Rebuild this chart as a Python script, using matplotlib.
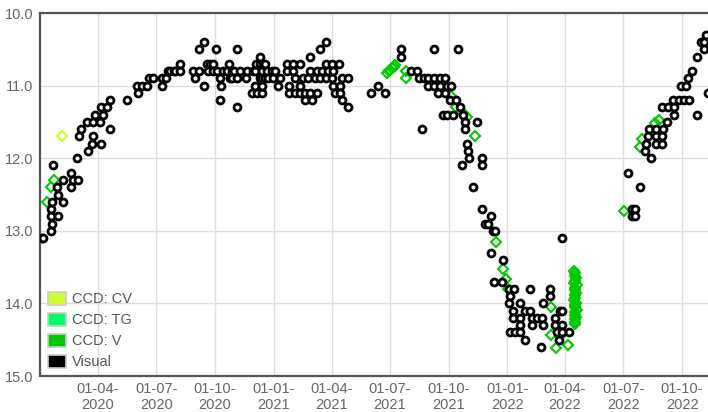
import numpy as np
import pandas as pd
import matplotlib
matplotlib.use('Agg')
from matplotlib import pyplot as plt
import matplotlib.dates as mdates
from matplotlib.patches import Patch

plt.rcParams['font.family'] = ['Liberation Sans', 'DejaVu Sans']

# days since 2020-01-01 and magnitudes
start = pd.Timestamp('2020-01-01')

vis_day = [3, 5, 17, 17, 17, 19, 19, 28, 28, 36, 36, 27, 48, 49, 52, 59, 20, 58, 76, 82, 95, 83, 61, 65, 109,
           74, 83, 94, 86, 98, 96, 105, 110, 136,
           152, 153, 159, 167, 171, 177, 191, 191, 198, 201, 204, 209, 211, 219, 219, 239, 243, 249, 249, 257,
           257, 261, 263, 266, 271, 271, 275, 277, 282, 282, 283, 287, 292, 296, 297, 300, 300, 303, 308, 309,
           308, 313, 323, 324, 331, 334, 336, 337, 338, 339, 344, 344, 344, 347, 347, 347, 347, 349, 352, 352,
           355, 357,
           363, 365, 368, 373, 376, 386, 386, 389, 390, 396, 396, 399, 399, 407, 407, 407, 412, 415, 415, 420,
           422, 422, 422, 425, 430, 433, 433, 438, 438, 441, 448, 448, 448, 451, 456, 456, 459, 459, 462, 467,
           469, 469, 472, 472, 481, 481,
           518, 529, 540, 564, 564, 616, 653, 581, 590, 592, 601, 607, 616, 626, 634, 607, 616, 626, 637, 643,
           622, 634, 641, 651, 657, 630, 637, 646, 662, 665, 683, 665, 598, 667, 670, 671, 660, 691, 692, 677,
           692, 706, 696, 701, 708, 712, 706, 724, 710, 722, 734, 741, 766, 797, 735, 734, 797, 751, 787, 740,
           758, 767, 740, 751, 769, 777, 785, 805, 813, 817, 750, 769, 787, 805, 817, 735, 743, 751, 808, 816,
           828, 758, 784, 811, 817,
           920, 938, 926, 930, 926, 930, 955, 946, 948, 963, 972, 950, 963, 972, 953, 963, 974, 981, 991, 972,
           982, 991, 1028, 990, 999, 1007, 1015, 1003, 1010, 1014, 1020, 1028, 1034, 1038, 1038, 1041, 1044]
vis_mag = [13.1, 13.1, 13.0, 12.8, 12.7, 12.9, 12.6, 12.8, 12.5, 12.6, 12.3, 12.4, 12.4, 12.2, 12.3, 12.3, 12.1,
           12.0, 11.9, 11.8, 11.8, 11.7, 11.7, 11.6, 11.6,
           11.5, 11.5, 11.5, 11.4, 11.4, 11.3, 11.3, 11.2, 11.2,
           11.0, 11.1, 11.0, 11.0, 10.9, 10.9, 10.9, 11.0, 10.9, 10.8, 10.8, 10.8, 10.8, 10.8, 10.7, 10.8, 10.9,
           10.8, 10.5, 10.4,
           11.0, 10.7, 10.8, 10.7, 10.7, 10.8, 10.5, 10.8, 10.9, 11.2, 11.0, 10.8, 10.8, 10.7, 10.9, 10.8, 10.9,
           10.8, 10.5, 10.9,
           11.3, 10.8, 10.9, 10.8, 11.1, 10.8, 11.0, 10.8, 10.7, 11.1, 10.7, 10.6, 10.9, 11.1, 11.0, 10.9, 10.8,
           10.7, 10.7, 10.9,
           10.8, 10.9,
           10.8, 10.9, 10.8, 11.0, 10.9, 10.7, 10.8, 11.1, 11.0, 10.7, 10.8, 11.1, 10.9, 10.7, 11.1, 11.0, 10.9,
           11.1, 11.2, 10.9,
           10.8, 10.6, 11.1, 11.2, 10.9, 10.8, 11.1, 10.9, 10.5, 10.8, 10.4, 10.7, 10.9, 10.8, 10.7, 10.9, 10.8,
           11.0, 11.1, 10.7,
           11.0, 11.1, 10.9, 11.2, 10.9, 11.3,
           11.1, 11.0, 11.1, 10.5, 10.6, 10.5, 10.5, 10.8, 10.8, 10.9, 10.9, 10.9, 10.9, 10.9, 10.9, 11.0, 11.0,
           11.0, 11.0, 11.0,
           11.1, 11.1, 11.2, 11.2, 11.3, 11.4, 11.4, 11.4, 11.4, 11.5, 11.5, 11.6, 11.6, 11.8, 11.9, 12.0, 12.1,
           12.0, 12.1, 12.4,
           12.7, 12.8, 12.9, 12.9, 13.0, 13.0, 13.3, 13.4, 13.7, 13.7, 13.8, 13.8, 13.8, 13.8, 13.9, 14.0, 13.9,
           14.0, 14.0, 14.1,
           14.1, 14.1, 14.2, 14.2, 14.2, 14.2, 14.2, 14.2, 14.1, 14.1, 14.3, 14.3, 14.3, 14.3, 14.3, 14.4, 14.4,
           14.4, 14.4, 14.4,
           14.4, 14.5, 14.6, 14.5, 13.1,
           12.2, 12.4, 12.7, 12.7, 12.8, 12.8, 12.0, 11.9, 11.8, 11.8, 11.8, 11.7, 11.7, 11.7, 11.6, 11.6, 11.6,
           11.5, 11.4, 11.3,
           11.3, 11.3, 11.4, 11.2, 11.2, 11.2, 11.2, 11.0, 11.0, 10.9, 10.8, 10.6, 10.4, 10.4, 10.5, 10.3, 11.1]

v_day = [12, 18, 22, 542, 546, 548, 550, 553, 555, 572, 572, 642, 651, 661, 667, 680, 713, 724, 729, 732,
         799, 799, 807, 813, 825,
         835, 837, 836, 838, 837, 835, 839, 836, 837, 838, 836, 837, 835, 838, 837, 836, 839, 837, 836, 838,
         837, 836, 837,
         913, 938, 942, 962, 968]
v_mag = [12.6, 12.4, 12.3, 10.83, 10.80, 10.78, 10.76, 10.74, 10.72, 10.80, 10.89, 11.15, 11.29, 11.38, 11.43,
         11.69, 13.15, 13.53, 13.67, 13.80,
         14.05, 14.43, 14.62, 14.45, 14.57,
         13.55, 13.58, 13.62, 13.65, 13.69, 13.72, 13.75, 13.79, 13.82, 13.85, 13.89, 13.92, 13.95, 13.99, 14.02,
         14.05, 14.09, 14.12, 14.16, 14.19, 14.22, 14.25, 14.28,
         12.73, 11.84, 11.74, 11.51, 11.48]

cv_day = [35]
cv_mag = [11.7]

series_names = ['CCD: CV', 'CCD: TG', 'CCD: V', 'Visual']
series_colors = ['#ccff33', '#00ff66', '#00c800', '#000000']


def to_dates(days):
    return start + pd.to_timedelta(np.array(days, dtype=float), unit='D')


fig = plt.figure(figsize=(7.08, 4.12), dpi=100)
ax = fig.add_axes([40 / 708, 36 / 412, 668 / 708, 363 / 412])

ax.plot(to_dates(cv_day), cv_mag, 'D', ms=5.3, mfc='none', mec=series_colors[0], mew=1.5, zorder=3)
ax.plot(to_dates(v_day), v_mag, 'D', ms=5.3, mfc='none', mec=series_colors[2], mew=1.5, zorder=3)
ax.plot(to_dates(vis_day), vis_mag, 'o', ms=5.0, mfc='white', mec='black', mew=2.0, zorder=4)

ax.set_xlim(start + pd.Timedelta(days=0.3), start + pd.Timedelta(days=1044.5))
ax.set_ylim(15, 10)
ax.set_yticks([10, 11, 12, 13, 14, 15])
ax.yaxis.set_major_formatter(matplotlib.ticker.FormatStrFormatter('%.1f'))
ax.xaxis.set_major_locator(mdates.MonthLocator(bymonth=[1, 4, 7, 10]))
ax.xaxis.set_major_formatter(mdates.DateFormatter('%d-%m-\n%Y'))

ax.grid(True, color='#dddddd', lw=1.0)
ax.set_axisbelow(True)
ax.tick_params(length=0, labelsize=10.5, colors='#666666', pad=5)
ax.tick_params(axis='x', pad=4)
for s in ['left', 'top', 'bottom']:
    ax.spines[s].set_color('#555555')
    ax.spines[s].set_linewidth(1.6)
ax.spines['right'].set_visible(False)

handles = [Patch(facecolor=c, edgecolor='#cccccc', lw=1.2) for c in series_colors]
ax.legend(handles, series_names, loc='lower left', bbox_to_anchor=(-0.008, -0.018), frameon=False,
          handlelength=1.25, handleheight=1.0, handletextpad=0.4, labelspacing=0.45,
          labelcolor='#555555', fontsize=10.5)

fig.savefig('out.png', dpi=100)
